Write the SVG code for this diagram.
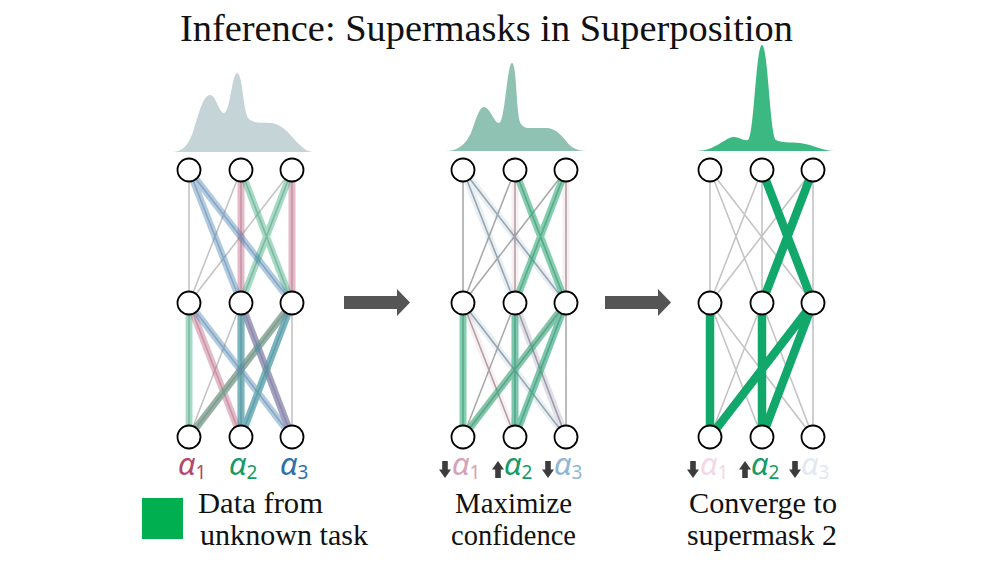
<svg xmlns="http://www.w3.org/2000/svg" xmlns:xlink="http://www.w3.org/1999/xlink" width="1000" height="563" viewBox="0 0 1000 563">
<style>
.serif{font-family:"Liberation Serif","Times New Roman",serif;fill:#111;}
.title{font-size:38px;}
.lbl{font-size:29px;}
.alpha{font-family:"Noto Sans","DejaVu Sans",sans-serif;font-style:italic;font-size:31px;}
.sub{font-style:normal;font-size:19px;}
.node{fill:#fff;stroke:#000;stroke-width:1.8;}
.gray{fill:none;stroke:#c4c4c4;stroke-width:1.6;}
.gray2{fill:none;stroke:#aaaaaa;stroke-width:1.6;}
.thick{fill:none;stroke-width:7;stroke-linecap:butt;}
.bigarrow{fill:#555;}
.updown{fill:#3c3c3c;}
</style>
<defs>
<path id="allEdges" d="M189,170L189,303M189,170L241,303M189,170L292,303M241,170L189,303M241,170L241,303M241,170L292,303M292,170L189,303M292,170L241,303M292,170L292,303M189,303L189,437M189,303L241,437M189,303L292,437M241,303L189,437M241,303L241,437M241,303L292,437M292,303L189,437M292,303L241,437M292,303L292,437"/>
<path id="mask1" d="M241,170L241,303M292,170L292,303M189,303L241,437M241,303L292,437M292,303L189,437"/>
<path id="mask2" d="M241,170L292,303M292,170L241,303M189,303L189,437M241,303L241,437M292,303L189,437M292,303L241,437"/>
<path id="mask3" d="M189,170L241,303M189,170L292,303M189,303L292,437M241,303L241,437M241,303L292,437M292,303L241,437"/>
<path id="down" d="M-2.8,0H2.8V8.5H6L0,17L-6,8.5H-2.8Z"/>
<path id="up" d="M-2.8,17H2.8V8.5H6L0,0L-6,8.5H-2.8Z"/>
</defs>

<text class="serif title" x="180" y="41" textLength="613" lengthAdjust="spacingAndGlyphs">Inference: Supermasks in Superposition</text>

<g id="distributions">
<path d="M172,152 C182,152 188,146 193,132 C198,116 203,95 210,95 C216,95 219,113 224,113 C230,113 232,73 237,73 C243,73 243,114 249,119 C255,124 262,122 271,123 C284,124 292,138 300,145 C305,150 309,152 314,152 Z" fill="#c5d4d7"/>
<path d="M445,151 C458,151 465,145 471,133 C476,120 479,107 484,107 C490,107 494,123 499,123 C505,123 507,63 512,63 C517,63 516,118 521,124 C525,129 528,128 535,128 L547,128 C560,129 565,142 572,147 C577,150 582,151 587,151 Z" fill="#8fc2b3"/>
<path d="M695,151 C708,151 716,146 724,141 C729,138 731,137 734,137 C739,137 743,141 748,140 C754,138 756,45 762,45 C768,45 770,136 776,140 C781,143 790,142 800,143 C815,145 822,151 835,151 Z" fill="#3cb982"/>
</g>

<g id="connectors">
<g id="net1-edges">
<use xlink:href="#allEdges" href="#allEdges" class="gray"/>
<use xlink:href="#mask1" href="#mask1" class="thick" stroke="#c0587a" stroke-opacity="0.42"/>
<use xlink:href="#mask2" href="#mask2" class="thick" stroke="#1fa56f" stroke-opacity="0.4"/>
<use xlink:href="#mask3" href="#mask3" class="thick" stroke="#3a7bb5" stroke-opacity="0.4"/>
</g>
<g id="net2-edges" transform="translate(274,0)">
<use xlink:href="#allEdges" href="#allEdges" class="gray2"/>
<use xlink:href="#mask1" href="#mask1" class="thick" stroke="#c0587a" stroke-opacity="0.1"/>
<use xlink:href="#mask3" href="#mask3" class="thick" stroke="#3a7bb5" stroke-opacity="0.12"/>
<use xlink:href="#mask2" href="#mask2" class="thick" stroke="#1fa56f" stroke-opacity="0.55"/>
</g>
<g id="net3-edges" transform="translate(521,0)">
<use xlink:href="#allEdges" href="#allEdges" class="gray"/>
<use xlink:href="#mask2" href="#mask2" class="thick" stroke="#12a86b" style="stroke-width:8.5"/>
</g>
<g id="step-arrows">
<path class="bigarrow" d="M344,296H397V289L410,302.5L397,316V309H344Z"/>
<path class="bigarrow" d="M605,296H658V289L671,302.5L658,316V309H605Z"/>
</g>
</g>

<g id="net1-nodes">
<g id="n1-t0"><circle class="node" cx="189" cy="170" r="11.5"/></g>
<g id="n1-t1"><circle class="node" cx="241" cy="170" r="11.5"/></g>
<g id="n1-t2"><circle class="node" cx="292" cy="170" r="11.5"/></g>
<g id="n1-m0"><circle class="node" cx="189" cy="303" r="11.5"/></g>
<g id="n1-m1"><circle class="node" cx="241" cy="303" r="11.5"/></g>
<g id="n1-m2"><circle class="node" cx="292" cy="303" r="11.5"/></g>
<g id="n1-b0"><circle class="node" cx="189" cy="437" r="11.5"/></g>
<g id="n1-b1"><circle class="node" cx="241" cy="437" r="11.5"/></g>
<g id="n1-b2"><circle class="node" cx="292" cy="437" r="11.5"/></g>
</g>
<g id="net2-nodes">
<g id="n2-t0"><circle class="node" cx="463" cy="170" r="11.5"/></g>
<g id="n2-t1"><circle class="node" cx="515" cy="170" r="11.5"/></g>
<g id="n2-t2"><circle class="node" cx="566" cy="170" r="11.5"/></g>
<g id="n2-m0"><circle class="node" cx="463" cy="303" r="11.5"/></g>
<g id="n2-m1"><circle class="node" cx="515" cy="303" r="11.5"/></g>
<g id="n2-m2"><circle class="node" cx="566" cy="303" r="11.5"/></g>
<g id="n2-b0"><circle class="node" cx="463" cy="437" r="11.5"/></g>
<g id="n2-b1"><circle class="node" cx="515" cy="437" r="11.5"/></g>
<g id="n2-b2"><circle class="node" cx="566" cy="437" r="11.5"/></g>
</g>
<g id="net3-nodes">
<g id="n3-t0"><circle class="node" cx="710" cy="170" r="11.5"/></g>
<g id="n3-t1"><circle class="node" cx="762" cy="170" r="11.5"/></g>
<g id="n3-t2"><circle class="node" cx="813" cy="170" r="11.5"/></g>
<g id="n3-m0"><circle class="node" cx="710" cy="303" r="11.5"/></g>
<g id="n3-m1"><circle class="node" cx="762" cy="303" r="11.5"/></g>
<g id="n3-m2"><circle class="node" cx="813" cy="303" r="11.5"/></g>
<g id="n3-b0"><circle class="node" cx="710" cy="437" r="11.5"/></g>
<g id="n3-b1"><circle class="node" cx="762" cy="437" r="11.5"/></g>
<g id="n3-b2"><circle class="node" cx="813" cy="437" r="11.5"/></g>
</g>

<g id="alpha-labels">
<text class="alpha" x="178" y="475" fill="#b04a6a">α<tspan class="sub" dy="4">1</tspan></text>
<text class="alpha" x="229" y="475" fill="#179a66">α<tspan class="sub" dy="4">2</tspan></text>
<text class="alpha" x="280" y="475" fill="#2f6fa7">α<tspan class="sub" dy="4">3</tspan></text>

<use xlink:href="#down" href="#down" class="updown" x="445" y="461"/>
<text class="alpha" x="452" y="475" fill="#d8a0b6">α<tspan class="sub" dy="4">1</tspan></text>
<use xlink:href="#up" href="#up" class="updown" x="498" y="461"/>
<text class="alpha" x="504" y="475" fill="#179a66">α<tspan class="sub" dy="4">2</tspan></text>
<use xlink:href="#down" href="#down" class="updown" x="548" y="461"/>
<text class="alpha" x="554" y="475" fill="#8fb6d3">α<tspan class="sub" dy="4">3</tspan></text>

<use xlink:href="#down" href="#down" class="updown" x="693" y="461"/>
<text class="alpha" x="700" y="475" fill="#f5d6e6">α<tspan class="sub" dy="4">1</tspan></text>
<use xlink:href="#up" href="#up" class="updown" x="745" y="461"/>
<text class="alpha" x="751" y="475" fill="#179a66">α<tspan class="sub" dy="4">2</tspan></text>
<use xlink:href="#down" href="#down" class="updown" x="795" y="461"/>
<text class="alpha" x="801" y="475" fill="#e0e9f1">α<tspan class="sub" dy="4">3</tspan></text>
</g>

<g id="legend">
<rect x="142" y="498" width="41" height="41" fill="#00b050"/>
<text class="serif lbl" x="198" y="513" textLength="125" lengthAdjust="spacingAndGlyphs">Data from</text>
<text class="serif lbl" x="200" y="545" textLength="168" lengthAdjust="spacingAndGlyphs">unknown task</text>
</g>
<g id="captions">
<text class="serif lbl" x="455" y="513" textLength="117" lengthAdjust="spacingAndGlyphs">Maximize</text>
<text class="serif lbl" x="451" y="545" textLength="125" lengthAdjust="spacingAndGlyphs">confidence</text>
<text class="serif lbl" x="689" y="513" textLength="148" lengthAdjust="spacingAndGlyphs">Converge to</text>
<text class="serif lbl" x="687" y="545" textLength="150" lengthAdjust="spacingAndGlyphs">supermask 2</text>
</g>
</svg>
